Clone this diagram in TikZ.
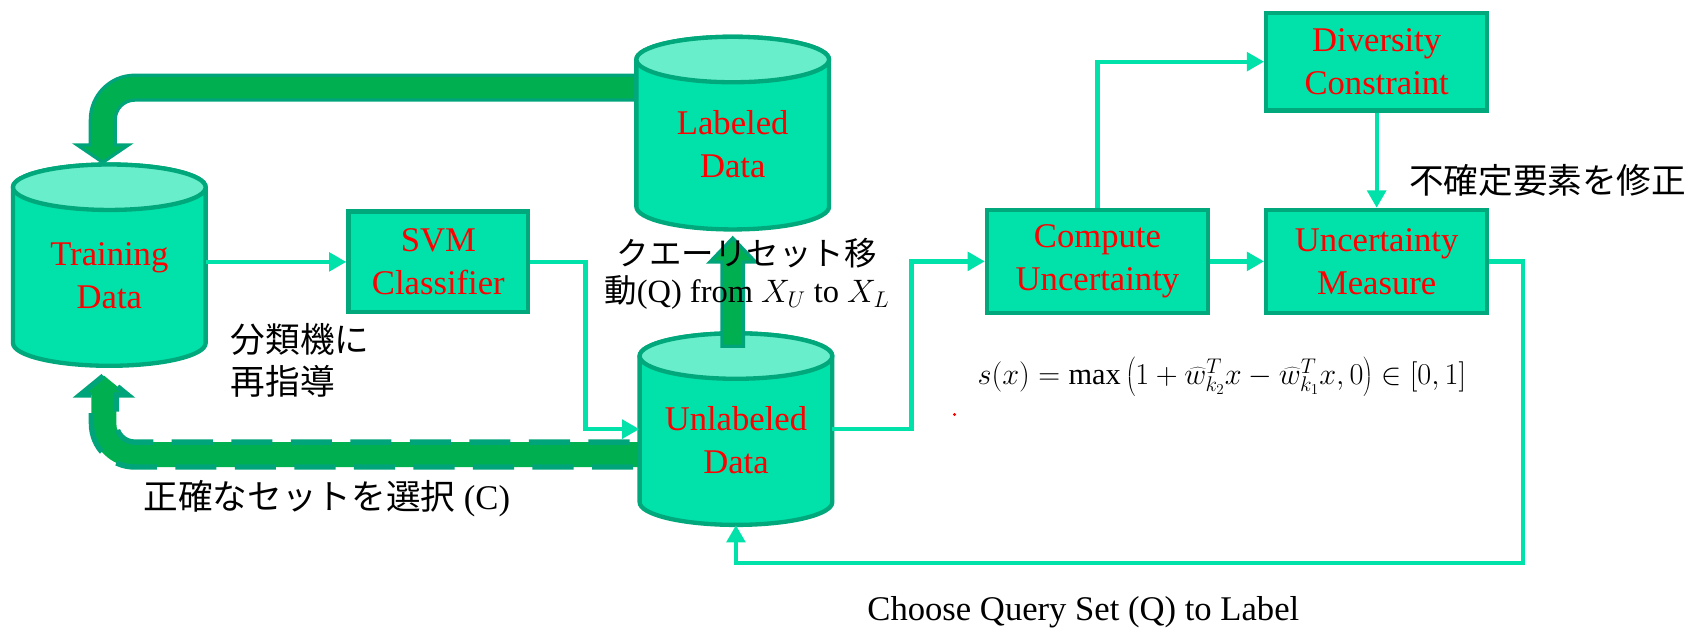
\RequirePackage{fix-cm}
\documentclass[tikz,border=0pt]{standalone}
\usepackage{fontspec}
\setmainfont{Liberation Serif}
\newfontfamily\cjk{Noto Sans CJK JP}
\usetikzlibrary{arrows.meta}
\definecolor{mainc}{RGB}{0,226,170}
\definecolor{topc}{RGB}{104,238,202}
\definecolor{bordc}{RGB}{0,168,124}
\definecolor{arrg}{RGB}{0,176,80}
\definecolor{arrb}{RGB}{0,164,122}
\definecolor{linec}{RGB}{0,226,170}
\tikzset{
 box/.style={draw=bordc, fill=mainc, line width=4pt, minimum width=204pt, minimum height=95pt, inner sep=0pt, align=center, text=red, font=\fontsize{32}{40}\selectfont},
 cyltext/.style={align=center, text=red, font=\fontsize{32}{40}\selectfont, inner sep=0pt},
 conn/.style={draw=linec, line width=4pt, -{Triangle[length=16pt,width=17pt]}},
 lbl/.style={inner sep=0pt, font=\fontsize{32}{38}\selectfont},
 jlbl/.style={inner sep=0pt, font={\cjk\fontsize{32}{38}\selectfont}},
 fat/.style={fill=arrg, draw=arrb, line width=3pt, line join=miter},
}
\newcommand\drawcyl[6]{%
  \path[draw=bordc, fill=mainc, line width=4pt, line join=round] (#2-#5,#3) -- (#2-#5,#4) arc[start angle=180,end angle=360,x radius=#5pt,y radius=21pt] -- (#2+#5,#3) arc[start angle=0,end angle=180,x radius=#5pt,y radius=21pt] -- cycle;
  \path[draw=bordc, fill=topc, line width=4pt] (#2,#3) ellipse[x radius=#5pt,y radius=21pt];
  \node[inner sep=0pt, minimum width=2*#5pt, minimum height={(#4-#3+42)*1pt}] (#1) at (#2,{(#3+#4)/2}) {};
  \node[cyltext] (#1-t) at (#2,{(#3+#4)/2+10}) {#6};
}
\begin{document}
\begin{tikzpicture}[x=1pt,y=-1pt]
\useasboundingbox (0,0) rectangle (1568,585);
% thick arrows behind cylinders
\path[fat] (640,69.5) -- (124.5,69.5) arc[start angle=90,end angle=180,radius=41pt] -- (83.5,134) -- (71.5,134) -- (95,150) -- (118.5,134) -- (106.5,134) -- (106.5,110.5) arc[start angle=180,end angle=90,radius=18pt] -- (640,92.5) -- cycle;
\path[fat, dash pattern=on 38pt off 17pt, line width=5pt] (640,431.5) -- (124.5,431.5) arc[start angle=270,end angle=180,radius=40pt] -- (84.5,365) -- (74,365) -- (96,347) -- (118,365) -- (107.5,365) -- (107.5,391.5) arc[start angle=180,end angle=270,radius=17pt] -- (640,408.5) -- cycle;
% cylinders
\drawcyl{td}{101}{173}{317}{89}{Training\\Data}
\drawcyl{ld}{677}{55}{191}{89}{Labeled\\Data}
\drawcyl{ud}{680}{329}{464}{89}{Unlabeled\\Data}
% vertical thick arrow
\path[fat] (667,320) -- (667,242) -- (656,242) -- (677,220) -- (698,242) -- (687,242) -- (687,320) -- cycle;
% boxes
\node[box, minimum width=166pt, minimum height=93pt] (svm) at (405,242) {SVM\\Classifier};
\node[box] (cu) at (1014,241.5) {Compute\\Uncertainty};
\node[box] (um) at (1272,241.5) {Uncertainty\\Measure};
\node[box, minimum height=90pt] (dc) at (1272,57) {Diversity\\Constraint};
% connectors
\draw[conn] (td.east |- svm.west) -- (svm.west);
\draw[conn] (svm.east) -- ++(51,0) |- (ud.west);
\draw[conn] (ud.east) -- ++(73,0) |- (cu.west);
\draw[conn] (cu.east) -- (um.west);
\draw[conn] (cu.north) |- (dc.west);
\draw[conn] (dc.south) -- (um.north);
\coordinate (q1) at (1407,520);
\draw[conn] (um.east) -| (q1) -| (ud.south);
% labels
\node[jlbl, anchor=west, align=left] (rt) at (213,333) {分類機に\\再指導};
\node[lbl, align=center, font=\fontsize{30}{34}\selectfont] (mv) at (690,253) {{\cjk クエーリセット移}\\{\cjk 動}(Q) from $X_U$ to $X_L$};
\node[lbl] (cs) at (302,461) {{\cjk 正確なセットを選択} (C)};
\node[jlbl] (fx) at (1430,167) {不確定要素を修正};
\node[lbl] (cq) at (1001,566) {Choose Query Set (Q) to Label};
\node[inner sep=0pt, font=\fontsize{28}{33}\selectfont] (f) at (1129,348) {$s(x) = \max\left(1 + \widehat{w}_{k_2}^{T} x - \widehat{w}_{k_1}^{T} x, 0\right) \in [0,1]$};
\fill[red] (882,383) circle[radius=1.5pt];
\end{tikzpicture}
\end{document}
